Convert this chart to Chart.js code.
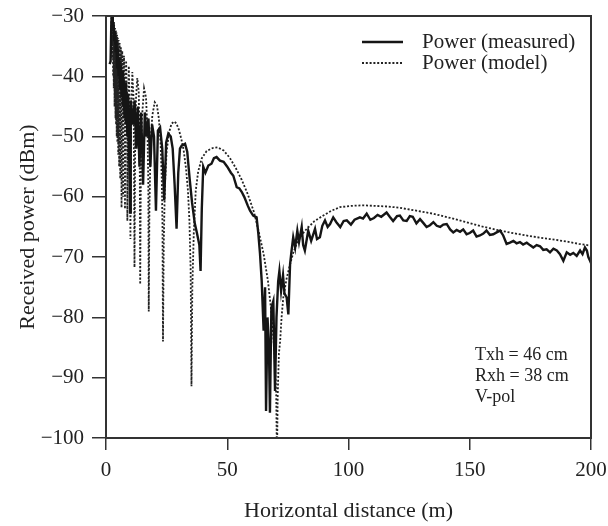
<!DOCTYPE html>
<html>
<head>
<meta charset="utf-8">
<script src="https://cdn.jsdelivr.net/npm/chart.js@4/dist/chart.umd.min.js"></script>
<style>
  html, body { margin: 0; padding: 0; background: #fff; }
  #wrap { width: 608px; height: 526px; }
</style>
</head>
<body>
<div id="wrap"><canvas id="chart"></canvas></div>
<script>
// distances (m) and received power (dBm)
const measDist = [1.5, 1.9, 2.2, 2.5, 2.8, 3.1, 3.4, 3.7, 4.0, 4.3, 4.6, 4.9, 5.2, 5.5, 5.8, 6.1, 6.4, 6.7, 7.0, 7.3,
  7.6, 7.9, 8.2, 8.5, 8.8, 9.1, 9.5, 9.9, 10.2, 10.5, 11.2, 11.8, 12.5, 13.1, 13.8, 14.5, 15.3, 16.0, 16.8, 17.5,
  18.3, 19.0, 19.8, 20.6, 21.4, 22.3, 23.2, 24.0, 24.8, 25.7, 26.7, 27.5, 28.3, 29.1, 29.8, 30.5, 31.2, 32.6, 33.5, 34.5,
  35.5, 36.6, 37.5, 38.5, 39.0, 39.5, 40.1, 41, 42.2, 43.5, 44.5, 45.6, 47, 48.5, 50, 51.5, 52.5, 53.9, 55, 56,
  57, 58.5, 59.4, 60.7, 62.1, 62.8, 63.5, 64.2, 65, 65.6, 66, 66.6, 67.2, 67.6, 68.2, 69, 69.7, 70.3, 71, 71.5,
  72.2, 73, 73.6, 74.5, 75.2, 75.9, 76.5, 77.2, 78, 78.9, 79.6, 80.7, 81.3, 82, 83.4, 84.6, 86.2, 87, 88.2, 89.2,
  90.3, 91.4, 92.4, 93.7, 95, 96.6, 98, 99.3, 101, 102.5, 104.7, 106, 107.5, 109, 110.5, 112, 113.5, 115.7, 117, 118.4,
  120, 121.2, 122.6, 124, 125.3, 126.5, 128, 129.5, 131, 132.2, 133.6, 135, 136.4, 137.8, 139.1, 140.5, 141.9, 143.2, 144.6, 146,
  147.3, 148.7, 150, 151.4, 152.8, 154.2, 155.6, 156.9, 158.3, 159.7, 161.1, 162.5, 163.8, 165.2, 166.6, 168, 169.3, 170.7, 172, 173.5,
  174.8, 176.2, 177.6, 179, 180.3, 181.7, 183.1, 184.5, 185.9, 187.2, 188.6, 190, 191.4, 192.7, 194.1, 195.5, 196.5, 197.5, 198.3, 198.9,
  199.5, 200];
const measPower = [-38, -37.5, -31, -29.5, -32, -31, -34, -32.5, -36, -34, -38.5, -35.5, -40, -37, -42, -38, -43.5, -39, -45, -40.5,
  -47, -41, -48, -42.5, -50, -43, -52, -62.6, -44, -45, -48, -44, -52, -45, -55, -46, -58, -46, -50, -47,
  -55, -48, -50, -62.3, -49, -48.5, -52, -60.6, -51, -49.5, -50, -52, -58, -65.3, -56, -52, -51.5, -51.2, -52.5, -57,
  -61, -64.4, -66, -68, -72.3, -62, -55, -56, -54.8, -54.5, -53.6, -53.4, -54, -54.2, -55, -56, -56.5, -58.4, -58.6, -59.2,
  -60, -61.5, -62.3, -63.1, -63.4, -66, -69.4, -73.9, -82.2, -75, -95.5, -80, -85, -95.8, -78.4, -77.3, -92.2, -80, -74, -72.3,
  -75.6, -73, -76, -76.7, -79.5, -71.2, -69, -66.7, -68.4, -65.6, -67.5, -65, -68, -68.9, -65.6, -67.3, -65.3, -67, -66.7, -64.8,
  -63.9, -65, -64.5, -63.4, -64.2, -65, -64, -63.9, -64.6, -63.8, -63.4, -63.6, -62.8, -63.8, -63.5, -63, -63.3, -62.6, -63.3, -64,
  -63.2, -63.1, -63.9, -64, -63.2, -63.3, -64.4, -63.7, -64.4, -65, -64.7, -64.2, -64.8, -65, -64.6, -64.5, -65.4, -65.9, -65.5, -65.8,
  -65.4, -66.2, -66, -65.6, -66.6, -66.4, -66.1, -65.6, -66.3, -66.2, -65.9, -65.6, -66.4, -67.8, -67.6, -67.3, -67.7, -67.5, -67.9, -67.6,
  -68, -68.4, -68, -68.2, -68.8, -68.7, -69.2, -68.6, -68.9, -69.5, -70.6, -69.2, -69.6, -69.3, -69.8, -68.9, -69.5, -68.4, -68.9, -70,
  -70.5, -71];

const modelDist = [1.5, 1.8, 2.2, 2.35, 2.48, 2.61, 2.77, 2.94, 3.07, 3.2, 3.36, 3.53, 3.72, 3.92, 4.03, 4.15, 4.28, 4.41, 4.55, 4.7,
  4.87, 5.04, 5.22, 5.42, 5.64, 5.875, 5.95, 6.13, 6.33, 6.41, 6.5, 6.7, 6.95, 7.05, 7.15, 7.42, 7.72, 7.83, 7.95, 8.3,
  8.65, 8.81, 8.95, 9.4, 9.85, 10.07, 10.3, 10.85, 11.4, 11.75, 12.0, 12.4, 12.9, 13.5, 13.9, 14.1, 14.35, 14.8, 15.7, 16.5,
  17.1, 17.45, 17.63, 17.9, 18.4, 19.1, 20.1, 21, 21.8, 22.5, 23, 23.3, 23.5, 23.8, 24.3, 25, 26, 27, 28, 29,
  30, 31, 32, 33, 33.8, 34.4, 34.9, 35.25, 35.6, 36.2, 37, 38, 39.5, 41.5, 44, 46, 48.5, 51, 53.5, 56,
  58.5, 61, 63, 65, 66.8, 68.3, 69.5, 70.2, 70.5, 70.8, 71.3, 71.8, 72.4, 73.1, 74.5, 75.9, 77.2, 78.6, 80.5, 82.8,
  86, 89.6, 93, 96.5, 101, 106, 111, 116, 121, 128, 135, 142, 148.7, 155, 162.5, 169, 176.2, 183, 190, 195,
  200];
const modelPower = [-29, -29.5, -30, -35, -30.3, -37, -30.6, -40, -31, -42, -31.5, -45, -32, -47, -32.4, -48, -32.7, -50, -33.1, -51,
  -33.6, -53, -34, -55, -34.5, -57, -43, -35.2, -42, -61.8, -44, -35.8, -43, -60, -45, -36.6, -44, -62, -46, -37.4,
  -45, -64, -47, -38.3, -46, -67, -48, -39.3, -44, -71.7, -53, -43.5, -40.3, -42.5, -52, -74.5, -58, -47, -42, -43.5,
  -49, -58, -79, -62, -51, -46.5, -44.3, -44.8, -47, -51, -57, -65, -84, -68, -58, -52.5, -49.3, -47.9, -47.5, -47.8,
  -48.8, -50.3, -52.2, -55.3, -59, -64, -72, -91.4, -75, -66, -59, -55.8, -53.6, -52.4, -51.9, -51.8, -52.3, -53.5, -55.2, -57.2,
  -59.6, -62.5, -65.8, -69.5, -74, -79.5, -86, -93, -104, -93, -86, -84, -80, -76.7, -73.5, -71.2, -69.3, -67.8, -66.4, -65.3,
  -64, -63.1, -62.3, -61.7, -61.5, -61.4, -61.5, -61.6, -61.8, -62.3, -62.8, -63.5, -64.2, -64.9, -65.6, -66.1, -66.6, -67, -67.4, -67.8,
  -68.1];

const xTicks = [0, 50, 100, 150, 200];
const yTicks = [-30, -40, -50, -60, -70, -80, -90, -100];
const notes = ['Txh = 46 cm', 'Rxh = 38 cm', 'V-pol'];

const serif = '"Liberation Serif", "Times New Roman", serif';
const ink = '#222';

// box round the plot, legend and the note in the corner
const framePlugin = {
  id: 'frame',
  afterDraw(chart) {
    const { ctx, chartArea: a } = chart;
    ctx.save();
    ctx.strokeStyle = '#333';
    ctx.lineWidth = 2;
    ctx.strokeRect(a.left, a.top, a.right - a.left, a.bottom - a.top);

    // legend
    ctx.font = '21px ' + serif;
    ctx.textBaseline = 'middle';
    ctx.fillStyle = ink;
    chart.data.datasets.forEach((ds, i) => {
      const y = a.top + 26 + i * 21;
      ctx.beginPath();
      ctx.strokeStyle = ds.borderColor;
      ctx.lineWidth = ds.borderWidth;
      ctx.setLineDash(ds.borderDash || []);
      ctx.moveTo(a.right - 229, y);
      ctx.lineTo(a.right - 188, y);
      ctx.stroke();
      ctx.setLineDash([]);
      ctx.fillText(ds.label, a.right - 169, y);
    });

    ctx.font = '18px ' + serif;
    notes.forEach((t, i) => {
      ctx.fillText(t, a.right - 116, a.bottom - 83 + i * 21);
    });
    ctx.restore();
  }
};

const toPoints = (xs, ys) => xs.map((x, i) => ({ x: x, y: ys[i] }));

new Chart(document.getElementById('chart'), {
  type: 'line',
  data: {
    datasets: [
      {
        label: 'Power (measured)',
        data: toPoints(measDist, measPower),
        borderColor: '#151515',
        borderWidth: 2.4,
        pointRadius: 0,
        tension: 0
      },
      {
        label: 'Power (model)',
        data: toPoints(modelDist, modelPower),
        borderColor: '#222',
        borderWidth: 1.8,
        borderDash: [2, 1.8],
        pointRadius: 0,
        tension: 0
      }
    ]
  },
  options: {
    responsive: true,
    maintainAspectRatio: false,
    animation: false,
    layout: { padding: { top: 16, right: 17, left: 0, bottom: 0 } },
    plugins: {
      legend: { display: false },
      tooltip: { enabled: false }
    },
    scales: {
      x: {
        type: 'linear',
        min: 0,
        max: 200,
        afterFit: s => { s.height = 88; s.paddingLeft = 0; s.paddingRight = 0; },
        afterBuildTicks: s => { s.ticks = xTicks.map(v => ({ value: v })); },
        ticks: {
          color: ink,
          font: { family: serif, size: 21 },
          padding: 8,
          maxRotation: 0
        },
        grid: { drawOnChartArea: false, drawTicks: true, tickLength: 12, color: '#333', lineWidth: 1.5 },
        border: { display: true, color: '#333', width: 2 },
        title: {
          display: true,
          text: 'Horizontal distance (m)',
          color: ink,
          font: { family: serif, size: 22 },
          padding: { top: 0, bottom: 2 }
        }
      },
      y: {
        type: 'linear',
        min: -100,
        max: -30,
        afterFit: s => { s.width = 106; s.paddingTop = 0; s.paddingBottom = 0; },
        afterBuildTicks: s => { s.ticks = yTicks.map(v => ({ value: v })); },
        ticks: {
          color: ink,
          font: { family: serif, size: 21 },
          padding: 8,
          callback: v => String(v).replace('-', '\u2212')
        },
        grid: { drawOnChartArea: false, drawTicks: true, tickLength: 14, color: '#333', lineWidth: 1.5 },
        border: { display: true, color: '#333', width: 2 },
        title: {
          display: true,
          text: 'Received power (dBm)',
          color: ink,
          font: { family: serif, size: 22 },
          padding: { top: 15, bottom: 0 }
        }
      }
    }
  },
  plugins: [framePlugin]
});
</script>
</body>
</html>
